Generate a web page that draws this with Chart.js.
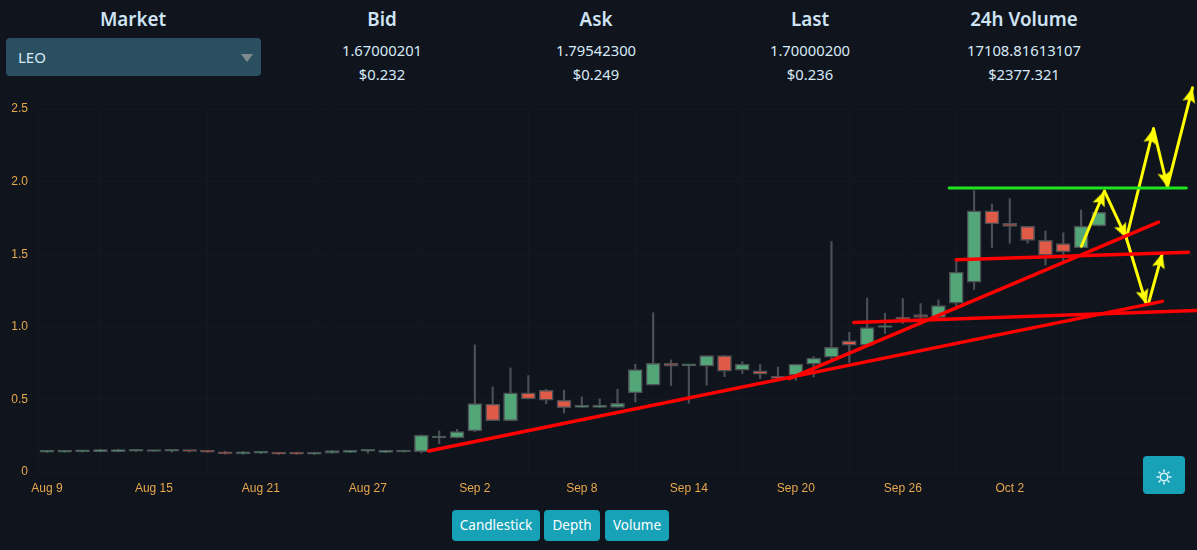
<!DOCTYPE html>
<html>
<head>
<meta charset="utf-8">
<title>LEO market</title>
<script src="https://cdn.jsdelivr.net/npm/chart.js@4"></script>
<style>
  html, body { margin: 0; padding: 0; background: #10141d; overflow: hidden; }
  body { width: 1197px; height: 550px; position: relative; font-family: "Noto Sans", sans-serif; color: #d7eaf8; }
  .col { position: absolute; top: 0; width: 214px; text-align: center; }
  .col h3 { margin: 0; position: absolute; top: 6px; left: 0; right: 0; font-size: 18.8px; line-height: 26px; font-weight: 600; color: #cfe4f4; }
  .col div { position: absolute; left: 0; right: 0; font-size: 14.8px; line-height: 20px; }
  .v1 { top: 40px; }
  .v2 { top: 64px; }
  #market { position: absolute; left: 6px; top: 38px; width: 255px; height: 38px; background: #2a4f61; border-radius: 4px; font-size: 15px; line-height: 38px; text-indent: 12px; }
  #market i { position: absolute; left: 235px; top: 16px; border: 6px solid transparent; border-top: 8px solid #808a90; border-bottom: 0; }
  #wrap { position: absolute; left: 0; top: 84px; width: 1197px; height: 417px; }
  .btn { position: absolute; top: 510px; height: 31px; line-height: 31px; background: #17a2b8; border-radius: 4px; color: #fff; font-size: 13.5px; text-align: center; }
  #sun { position: absolute; left: 1143px; top: 456px; width: 42px; height: 38px; background: #17a2b8; border-radius: 4px; }
</style>
</head>
<body>
<div class="col" style="left:26px"><h3>Market</h3></div>
<div id="market">LEO<i></i></div>
<div class="col" style="left:275px"><h3>Bid</h3><div class="v1">1.67000201</div><div class="v2">$0.232</div></div>
<div class="col" style="left:489px"><h3>Ask</h3><div class="v1">1.79542300</div><div class="v2">$0.249</div></div>
<div class="col" style="left:703px"><h3>Last</h3><div class="v1">1.70000200</div><div class="v2">$0.236</div></div>
<div class="col" style="left:917px"><h3>24h Volume</h3><div class="v1">17108.81613107</div><div class="v2">$2377.321</div></div>

<div id="wrap"><canvas id="chart"></canvas></div>

<div class="btn" style="left:452px;width:88px">Candlestick</div>
<div class="btn" style="left:544px;width:56px">Depth</div>
<div class="btn" style="left:605px;width:64px">Volume</div>
<div id="sun">
  <svg width="42" height="38" viewBox="0 0 42 38" fill="none" stroke="#dff4f8" stroke-width="1.6">
    <circle cx="21" cy="21" r="3.8"/>
    <path d="M21 13.5v2.5M21 26v2.5M13.5 21h2.5M26 21h2.5M15.7 15.7l1.8 1.8M24.5 24.5l1.8 1.8M15.7 26.3l1.8-1.8M24.5 17.5l1.8-1.8"/>
  </svg>
</div>

<script>
const tickIndex = [0, 6, 12, 18, 24, 30, 36, 42, 48, 54]
const tickLabels = ['Aug 9', 'Aug 15', 'Aug 21', 'Aug 27', 'Sep 2', 'Sep 8', 'Sep 14', 'Sep 20', 'Sep 26', 'Oct 2']

// one candle per day, starting Aug 9
const open = [.137, .137, .139, .140, .140, .143, .141, .143, .145, .141, .139, .125, .130, .135, .135, .122, .130, .135, .143, .135,
  .138, .14, .234, .234, .283, .467, .354, .545, .563, .494, .445, .445, .445, .545, .598, .749, .731, .729, .802, .701,
  .696, .659, .667, .743, .79, .903, .873, .995, 1.064, 1.085, 1.064, 1.163, 1.308, 1.798, 1.713, 1.692, 1.595, 1.574, 1.543, 1.694]
const high = [.142, .143, .147, .156, .157, .149, .146, .148, .148, .144, .143, .141, .138, .136, .136, .129, .148, .143, .148, .143,
  .148, .255, .283, .294, .876, .586, .717, .664, .57, .563, .517, .505, .57, .742, 1.097, .772, .733, .802, .802, .76,
  .742, .724, .743, .795, 1.588, .963, 1.198, 1.094, 1.195, 1.16, 1.185, 1.45, 1.938, 1.846, 1.883, 1.692, 1.66, 1.648, 1.805, 1.788]
const low = [.135, .136, .138, .138, .138, .142, .140, .137, .137, .135, .123, .122, .127, .122, .122, .120, .129, .133, .130, .133,
  .137, .132, .195, .234, .278, .354, .354, .503, .47, .406, .445, .445, .445, .483, .598, .595, .473, .598, .657, .678,
  .643, .645, .632, .655, .77, .754, .873, .954, 1.023, 1.03, 1.064, 1.14, 1.257, 1.547, 1.575, 1.575, 1.425, 1.444, 1.543, 1.694]
const close = [.139, .139, .146, .143, .143, .148, .143, .147, .141, .137, .125, .135, .133, .123, .123, .127, .147, .138, .146, .138,
  .146, .255, .236, .278, .471, .354, .545, .503, .494, .443, .45, .447, .473, .706, .748, .728, .733, .802, .694, .743,
  .673, .645, .743, .784, .859, .873, .995, 1.009, 1.053, 1.064, 1.146, 1.377, 1.798, 1.708, 1.692, 1.595, 1.494, 1.515, 1.694, 1.788]

// hand drawn trend lines, [x0, x1] in candle index and [y0, y1] in price
const redX = [[21.4, 62.56], [41.64, 62.34], [45.25, 64.47], [51.0, 64.02]]
const redY = [[.145, 1.175], [.643, 1.721], [1.030, 1.113], [1.462, 1.513]]
const greenX = [50.6, 63.9]
const greenY = [1.956, 1.956]
const arrowX = [[58.02, 59.31], [59.31, 60.54], [60.54, 61.66], [61.78, 62.56], [60.54, 62.06], [62.06, 62.84], [62.84, 64.25]]
const arrowY = [[1.555, 1.935], [1.935, 1.610], [1.610, 1.154], [1.161, 1.507], [1.610, 2.364], [2.364, 1.963], [1.963, 2.647]]

const GREEN = 'rgb(83, 166, 120)'
const RED = 'rgb(224, 90, 72)'
const WICK = '#4c5054'
const GRID = '#131821'

// arrow head with its tip in the middle of the canvas, pointing up
const head = document.createElement('canvas')
head.width = 30
head.height = 30
{
    const c = head.getContext('2d')
    c.fillStyle = '#ffff00'
    c.beginPath()
    c.moveTo(15, 15)
    c.lineTo(21.5, 30)
    c.lineTo(15, 27)
    c.lineTo(8.5, 30)
    c.closePath()
    c.fill()
}

const segment = (xs, ys) => xs.map((x, i) => ({ x: x, y: ys[i] }))

const redLines = redX.map((xs, i) => ({
    type: 'line',
    data: segment(xs, redY[i]),
    borderColor: '#ff0000',
    borderWidth: 3.5,
    borderCapStyle: 'round',
    pointRadius: 0,
    clip: false,
    order: 0
}))

const arrows = arrowX.map((xs, i) => ({
    type: 'line',
    data: segment(xs, arrowY[i]),
    borderColor: '#ffff00',
    borderWidth: 3,
    borderCapStyle: 'round',
    pointStyle: head,
    // the radius only decides whether the tip counts as inside the chart area
    pointRadius: [0, 30],
    pointRotation: (ctx) => {
        const { x: xs2, y: ys2 } = ctx.chart.scales
        const d = ctx.dataset.data
        const dx = xs2.getPixelForValue(d[1].x) - xs2.getPixelForValue(d[0].x)
        const dy = ys2.getPixelForValue(d[1].y) - ys2.getPixelForValue(d[0].y)
        return Math.atan2(dx, -dy) * 180 / Math.PI
    },
    clip: false,
    order: 0
}))

const config = {
    type: 'bar',
    data: {
        datasets: [
            {
                data: open.map((o, i) => ({ x: i, y: [o, close[i]] })),
                backgroundColor: open.map((o, i) => close[i] >= o ? GREEN : RED),
                borderColor: WICK,
                // very flat candles are nearly all border
                borderWidth: open.map((o, i) => Math.abs(close[i] - o) < 0.02 ? 2 : 1.5),
                borderSkipped: false,
                barThickness: 14,
                minBarLength: 2,
                grouped: false,
                order: 1
            },
            {
                data: low.map((l, i) => ({ x: i, y: [l, high[i]] })),
                backgroundColor: WICK,
                barThickness: 1.5,
                grouped: false,
                order: 2
            },
            ...redLines,
            {
                type: 'line',
                data: segment(greenX, greenY),
                borderColor: '#1ee61e',
                borderWidth: 3,
                borderCapStyle: 'round',
                pointRadius: 0,
                clip: false,
                order: 0
            },
            ...arrows
        ]
    },
    options: {
        responsive: true,
        maintainAspectRatio: false,
        animation: false,
        layout: { autoPadding: false, padding: { top: 25, left: 0, right: 0, bottom: 0 } },
        plugins: {
            legend: { display: false },
            tooltip: { enabled: false }
        },
        scales: {
            x: {
                type: 'linear',
                min: -0.5,
                max: 64.5,
                offset: false,
                afterBuildTicks: (scale) => { scale.ticks = tickIndex.map((v) => ({ value: v })) },
                afterFit: (scale) => {
                    scale.height = 29
                    scale.paddingLeft = 0
                    scale.paddingRight = 0
                },
                grid: { color: GRID, drawTicks: false },
                border: { color: GRID },
                ticks: {
                    color: '#e8a84c',
                    font: { family: '"Liberation Sans"', size: 12 },
                    padding: 9,
                    maxRotation: 0,
                    autoSkip: false,
                    callback: (value) => tickLabels[tickIndex.indexOf(value)]
                }
            },
            y: {
                min: 0,
                max: 2.5,
                afterFit: (scale) => { scale.width = 38 },
                grid: {
                    color: (ctx) => ctx.tick.value === 0 ? '#07090d' : GRID,
                    drawTicks: false
                },
                border: { color: GRID },
                ticks: {
                    color: '#e8a84c',
                    font: { family: '"Liberation Sans"', size: 12 },
                    padding: 10,
                    stepSize: 0.5,
                    callback: (value) => value === 0 ? '0' : value.toFixed(1)
                }
            }
        }
    }
}

const chart = new Chart(document.getElementById('chart'), config)
</script>
</body>
</html>
